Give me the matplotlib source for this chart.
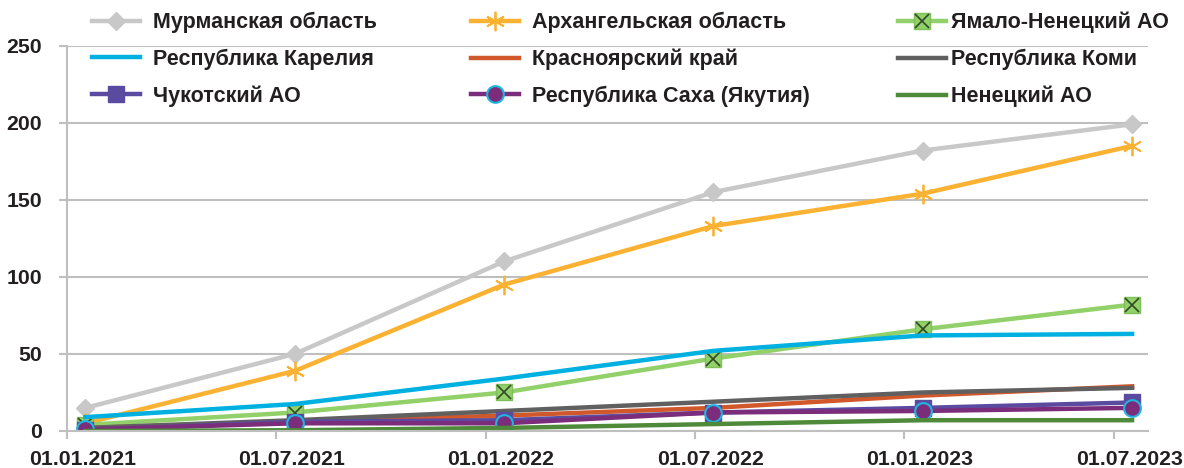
import matplotlib
matplotlib.use("Agg")
import matplotlib.pyplot as plt
import matplotlib.transforms as mtransforms
from matplotlib.legend_handler import HandlerTuple

plt.rcParams['font.family'] = ['Liberation Sans', 'DejaVu Sans']

dates = ["01.01.2021", "01.07.2021", "01.01.2022", "01.07.2022", "01.01.2023", "01.07.2023"]

murmansk = [15, 50, 110, 155, 182, 199]
arkhangelsk = [5, 39, 95, 133, 154, 185]
yamal = [4, 12, 25, 47, 66, 82]
karelia = [9, 17.5, 34, 52, 62, 63]
krasnoyarsk = [2, 6, 10, 15, 23, 29]
komi = [2, 7, 13, 19, 25, 28]
chukotka = [0.5, 6, 7, 12, 15, 18.5]
sakha = [1, 5, 5, 12, 13, 15]
nenets = [0, 0.5, 2, 4.5, 7, 7]

names = ["Мурманская область", "Архангельская область", "Ямало-Ненецкий АО",
         "Республика Карелия", "Красноярский край", "Республика Коми",
         "Чукотский АО", "Республика Саха (Якутия)", "Ненецкий АО"]

x = list(range(len(dates)))

fig = plt.figure(figsize=(11.84, 4.68), dpi=100)
ax = fig.add_axes([67/1184, 37/468, (1148-67)/1184, (431-45.7)/468])

lw = 3.2
h = {}
h[0], = ax.plot(x, murmansk, color="#C8C8C8", lw=lw, marker="D", ms=9, mfc="#C8C8C8", mec="#C8C8C8", label=names[0])
h[1], = ax.plot(x, arkhangelsk, color="#FBB131", lw=lw, marker=(6, 2, 0), ms=14, mew=1.3, mec="#FBB131", label=names[1])
l2a, = ax.plot(x, yamal, color="#92D06A", lw=lw, marker="s", ms=12, mfc="#92D06A", mec="#7FBF5A", label=names[2])
l2b, = ax.plot(x, yamal, ls="none", marker="x", ms=10, mew=1.2, mec="#2F4A25")
h[2] = (l2a, l2b)
h[3], = ax.plot(x, karelia, color="#00B0E0", lw=lw, label=names[3])
h[4], = ax.plot(x, krasnoyarsk, color="#D0582A", lw=lw, label=names[4])
h[5], = ax.plot(x, komi, color="#606060", lw=lw, label=names[5])
h[6], = ax.plot(x, chukotka, color="#5B4BA0", lw=lw, marker="s", ms=12, mfc="#5B4BA0", mec="#5B4BA0", label=names[6])
h[7], = ax.plot(x, sakha, color="#7B2C7A", lw=lw, marker="o", ms=12, mfc="#7B2C7A", mec="#1FB5E0", mew=1.5, label=names[7])
h[8], = ax.plot(x, nenets, color="#4E8A3A", lw=lw, label=names[8])

ax.set_xlim(-0.086, 5.076)
ax.set_ylim(0, 250)
ax.set_yticks([0, 50, 100, 150, 200, 250])
ax.set_xticks(x)
ax.set_xticklabels(dates)
ax.set_xticks([i - 0.088 for i in x], minor=True)
ax.tick_params(axis='x', which='major', length=0, pad=14, labelsize=15.3, labelcolor="#231F20")
ax.tick_params(axis='x', which='minor', length=6, width=1.5, color="#BFBFBF")
ax.tick_params(axis='y', length=6, width=1.5, color="#BFBFBF", pad=12, labelsize=15.3, labelcolor="#231F20")
shift = mtransforms.ScaledTranslation(-3/100, 0, fig.dpi_scale_trans)
for lab in ax.get_xticklabels():
    lab.set_fontweight('bold')
    lab.set_transform(lab.get_transform() + shift)
for lab in ax.get_yticklabels():
    lab.set_fontweight('bold')

ax.grid(axis='y', color="#BFBFBF", lw=1.5)
ax.set_axisbelow(True)
for s in ["top", "right"]:
    ax.spines[s].set_visible(False)
for s in ["left", "bottom"]:
    ax.spines[s].set_color("#BFBFBF")
    ax.spines[s].set_linewidth(1.5)

cols = [[0, 3, 6], [1, 4, 7], [2, 5, 8]]
anchors = [80, 459, 886]
pads = [0.6, 0.6, 0.2]
for c, xa, tp in zip(cols, anchors, pads):
    leg = fig.legend([h[i] for i in c], [names[i] for i in c], ncols=1,
                     loc="upper left", bbox_to_anchor=(xa/1184, 1.0), frameon=False,
                     prop={'weight': 'bold', 'size': 15.5}, handlelength=2.25, handletextpad=tp,
                     labelspacing=0.72, borderaxespad=0.15,
                     handler_map={tuple: HandlerTuple(ndivide=1)})
    for t in leg.get_texts():
        t.set_color("#231F20")

fig.savefig("out.png", dpi=100)
